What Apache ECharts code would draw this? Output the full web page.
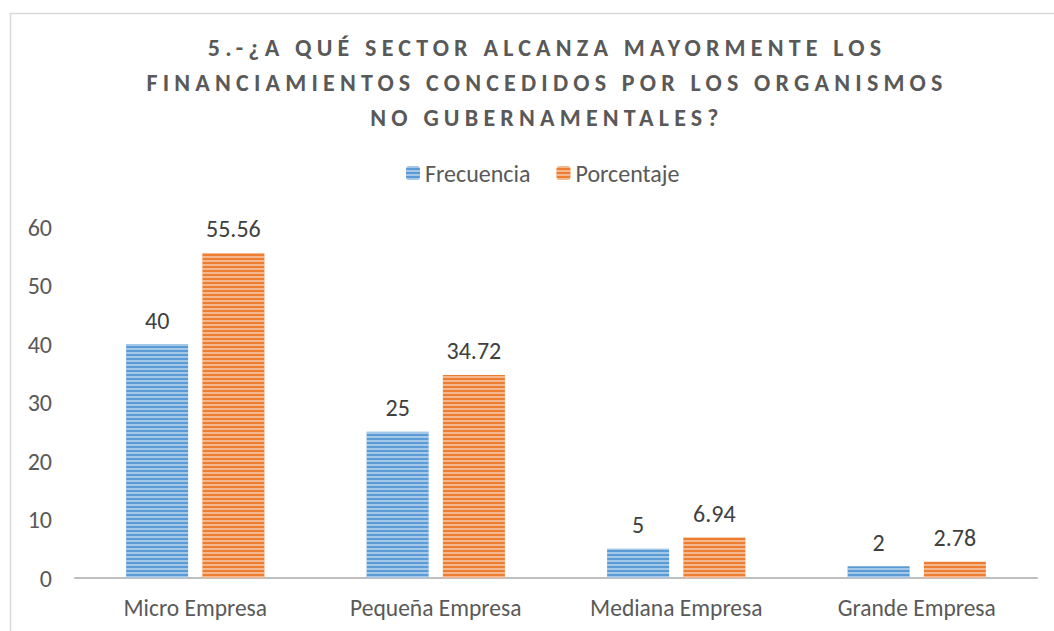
<!DOCTYPE html>
<html><head><meta charset="utf-8">
<script src="https://cdn.jsdelivr.net/npm/echarts@6/dist/echarts.min.js"></script>
<style>html,body{margin:0;padding:0;background:#fff}#c{width:1054px;height:631px}</style>
</head><body><div id="c"></div>
<script>
const categories = ['Micro Empresa', 'Pequeña Empresa', 'Mediana Empresa', 'Grande Empresa'];
const frecuencia = [40, 25, 5, 2];
const porcentaje = [55.56, 34.72, 6.94, 2.78];
const yTicks = [0, 10, 20, 30, 40, 50, 60];
const titleText = '5.-¿A QUÉ SECTOR ALCANZA MAYORMENTE LOS\nFINANCIAMIENTOS CONCEDIDOS POR LOS ORGANISMOS\nNO GUBERNAMENTALES?';

const chart = echarts.init(document.getElementById('c'), null, {renderer: 'svg'});
const font = 'Carlito, Calibri, "Open Sans", "Liberation Sans", sans-serif';
const stripe = {symbol: 'rect', symbolSize: 1, dashArrayX: [1, 0], dashArrayY: [2, 2], rotation: 0, color: 'rgba(255,255,255,0.45)'};
chart.setOption({
  animation: false,
  textStyle: {fontFamily: font},
  graphic: [{type: 'rect', shape: {x: 10.5, y: 13.5, width: 1200, height: 800}, style: {fill: 'none', stroke: '#d9d9d9', lineWidth: 1.5}, silent: true}],
  title: {
    text: titleText, left: 542, textAlign: 'center', top: 25,
    textStyle: {fontSize: 24, fontWeight: 'bold', color: '#595959', lineHeight: 35, fontFamily: font}
  },
  legend: {
    top: 156, left: 401, itemWidth: 14, itemHeight: 14, itemGap: 26,
    textStyle: {fontSize: 24, color: '#595959', fontFamily: font},
    data: ['Frecuencia', 'Porcentaje']
  },
  grid: {left: 75, right: 17, top: 227, bottom: 53},
  xAxis: {
    type: 'category', data: categories,
    axisLine: {lineStyle: {color: '#bfbfbf', width: 2}},
    axisTick: {show: false},
    axisLabel: {fontSize: 23.5, color: '#595959', margin: 18, fontFamily: font}
  },
  yAxis: {
    type: 'value', min: yTicks[0], max: yTicks[yTicks.length - 1], interval: 10,
    splitLine: {show: false}, axisLine: {show: false}, axisTick: {show: false},
    axisLabel: {fontSize: 24, color: '#595959', margin: 23, fontFamily: font}
  },
  series: [
    {name: 'Frecuencia', type: 'bar', data: frecuencia, barWidth: 62, barGap: '23%',
     itemStyle: {color: '#5B9BD5', decal: stripe},
     label: {show: true, position: 'top', distance: 12, fontSize: 24, color: '#404040', fontFamily: font}},
    {name: 'Porcentaje', type: 'bar', data: porcentaje, barWidth: 62,
     itemStyle: {color: '#ED7D31', decal: stripe},
     label: {show: true, position: 'top', distance: 12, fontSize: 24, color: '#404040', fontFamily: font}}
  ]
});
function spaceTitle() {
  const lines = titleText.split('\n');
  document.querySelectorAll('#c svg text').forEach(t => {
    if (lines.indexOf(t.textContent) >= 0) t.setAttribute('letter-spacing', '5.2');
  });
}
chart.on('finished', spaceTitle);
spaceTitle();
</script></body></html>
